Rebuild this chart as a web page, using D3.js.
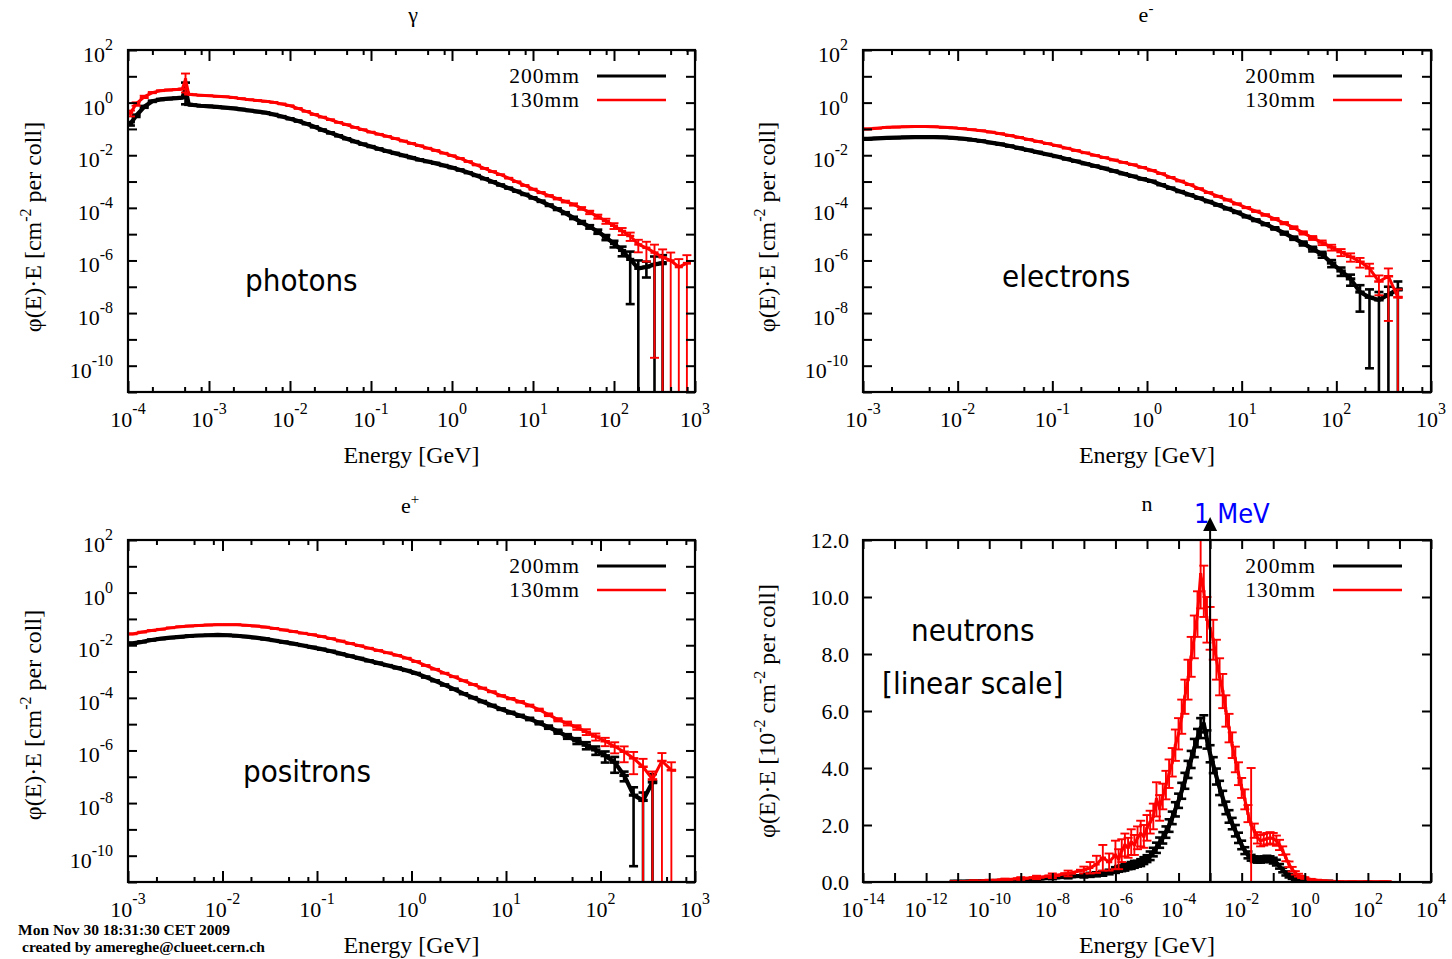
<!DOCTYPE html>
<html><head><meta charset="utf-8">
<script src="https://cdn.jsdelivr.net/npm/d3@7"></script>
<style>
body{margin:0;background:#fff}
svg{display:block}
</style></head><body>
<svg id="c" width="1452" height="959"></svg>
<script>
// ================= DATA =================
// Photons (gamma): bin centres as log10(E/GeV), flux values as log10(phi*E), relative errors
const photonLogE = [-3.97,-3.9,-3.8,-3.7,-3.6,-3.5,-3.4,-3.33,-3.29,-3.25,-3.2,
 -3.1,-3.0,-2.9,-2.8,-2.7,-2.6,-2.5,-2.4,-2.3,-2.2,
 -2.1,-2.0,-1.9,-1.8,-1.7,-1.6,-1.5,-1.4,-1.3,-1.2,
 -1.1,-1.0,-0.9,-0.8,-0.7,-0.6,-0.5,-0.4,-0.3,-0.2,
 -0.1,0.0,0.1,0.2,0.3,0.4,0.5,0.6,0.7,0.8,
 0.9,1.0,1.1,1.2,1.3,1.4,1.5,1.6,1.7,1.8,
 1.9,2.0,2.1,2.2,2.3,2.4,2.5,2.6,2.7,2.8,
 2.9];
const photon200Log = [-0.80,-0.50,-0.16,0.05,0.12,0.15,0.17,0.19,0.52,-0.07,-0.09,
 -0.12,-0.14,-0.16,-0.19,-0.22,-0.26,-0.30,-0.34,-0.38,-0.45,
 -0.53,-0.61,-0.70,-0.80,-0.92,-1.04,-1.15,-1.26,-1.37,-1.48,
 -1.58,-1.67,-1.76,-1.85,-1.93,-2.01,-2.09,-2.17,-2.24,-2.31,
 -2.39,-2.47,-2.56,-2.66,-2.77,-2.89,-3.01,-3.13,-3.25,-3.37,
 -3.49,-3.62,-3.75,-3.90,-4.05,-4.20,-4.38,-4.55,-4.72,-4.90,
 -5.12,-5.36,-5.62,-5.96,-6.30,-6.25,-6.15,-6.10,null,null,
 null];
const photon200RelErr = [0.15,0.1,0.08,0.05,0.04,0.03,0.03,0.03,0.74,0.03,0.03,
 0.03,0.03,0.03,0.03,0.03,0.03,0.03,0.03,0.03,0.03,
 0.03,0.03,0.03,0.03,0.03,0.03,0.03,0.03,0.03,0.03,
 0.03,0.03,0.03,0.03,0.03,0.03,0.03,0.03,0.03,0.03,
 0.03,0.03,0.03,0.03,0.03,0.03,0.03,0.03,0.03,0.03,
 0.04,0.04,0.05,0.06,0.07,0.08,0.1,0.12,0.15,0.18,
 0.22,0.28,0.4,0.98,1,0.6,1,1,0,0,
 0];
const photon130Log = [-0.40,-0.05,0.22,0.38,0.45,0.48,0.50,0.52,0.88,0.32,0.30,
 0.28,0.26,0.24,0.22,0.19,0.15,0.11,0.08,0.05,0.01,
 -0.05,-0.12,-0.22,-0.33,-0.45,-0.55,-0.65,-0.75,-0.84,-0.94,
 -1.03,-1.12,-1.20,-1.28,-1.37,-1.46,-1.55,-1.64,-1.73,-1.82,
 -1.92,-2.02,-2.12,-2.24,-2.37,-2.50,-2.62,-2.74,-2.87,-3.01,
 -3.15,-3.29,-3.42,-3.54,-3.65,-3.76,-3.87,-4.02,-4.17,-4.33,
 -4.50,-4.68,-4.88,-5.07,-5.39,-5.52,-5.70,-5.88,-6.00,-6.25,
 -6.10];
const photon130RelErr = [0.25,0.15,0.1,0.05,0.03,0.03,0.03,0.03,0.68,0.03,0.03,
 0.02,0.02,0.02,0.02,0.02,0.02,0.02,0.02,0.02,0.02,
 0.02,0.02,0.02,0.02,0.02,0.02,0.02,0.02,0.02,0.02,
 0.02,0.02,0.02,0.02,0.02,0.02,0.02,0.02,0.02,0.02,
 0.02,0.02,0.02,0.02,0.02,0.02,0.02,0.02,0.02,0.02,
 0.03,0.04,0.05,0.06,0.07,0.08,0.1,0.12,0.15,0.18,
 0.22,0.25,0.3,0.35,0.5,0.7,0.9999,1,1,1,
 1];

// Electrons (e-)
const electronLogE = [-2.95,-2.85,-2.75,-2.65,-2.55,-2.45,-2.35,-2.25,-2.15,-2.05,
 -1.95,-1.85,-1.75,-1.65,-1.55,-1.45,-1.35,-1.25,-1.15,-1.05,
 -0.95,-0.85,-0.75,-0.65,-0.55,-0.45,-0.35,-0.25,-0.15,-0.05,
 0.05,0.15,0.25,0.35,0.45,0.55,0.65,0.75,0.85,0.95,
 1.05,1.15,1.25,1.35,1.45,1.55,1.65,1.75,1.85,1.95,
 2.05,2.15,2.25,2.35,2.45,2.55,2.65];
const electron200Log = [-1.38,-1.36,-1.34,-1.33,-1.32,-1.31,-1.31,-1.31,-1.32,-1.34,
 -1.37,-1.41,-1.46,-1.52,-1.58,-1.65,-1.73,-1.81,-1.89,-1.97,
 -2.05,-2.14,-2.23,-2.32,-2.41,-2.50,-2.60,-2.70,-2.80,-2.90,
 -2.99,-3.12,-3.25,-3.38,-3.50,-3.63,-3.76,-3.89,-4.03,-4.17,
 -4.33,-4.47,-4.62,-4.78,-4.96,-5.15,-5.35,-5.56,-5.77,-6.10,
 -6.40,-6.70,-7.20,-7.40,-7.50,-7.30,-7.10];
const electron200RelErr = [0.02,0.02,0.02,0.02,0.02,0.02,0.02,0.02,0.02,0.02,
 0.02,0.02,0.02,0.02,0.02,0.02,0.02,0.02,0.02,0.02,
 0.02,0.02,0.02,0.02,0.02,0.02,0.02,0.02,0.02,0.02,
 0.02,0.02,0.02,0.03,0.03,0.03,0.04,0.04,0.05,0.05,
 0.06,0.07,0.08,0.1,0.12,0.14,0.17,0.2,0.25,0.3,
 0.35,0.45,0.82,0.998,1,1,1];
const electron130Log = [-1.00,-0.97,-0.94,-0.93,-0.92,-0.91,-0.91,-0.92,-0.94,-0.96,
 -0.99,-1.03,-1.07,-1.12,-1.18,-1.25,-1.32,-1.40,-1.48,-1.56,
 -1.64,-1.73,-1.82,-1.91,-2.00,-2.09,-2.18,-2.27,-2.36,-2.46,
 -2.57,-2.70,-2.84,-2.98,-3.12,-3.27,-3.42,-3.56,-3.70,-3.85,
 -3.99,-4.13,-4.27,-4.42,-4.58,-4.75,-4.95,-5.14,-5.32,-5.50,
 -5.68,-5.86,-6.05,-6.30,-6.80,-6.60,-7.40];
const electron130RelErr = [0.02,0.02,0.02,0.02,0.02,0.02,0.02,0.02,0.02,0.02,
 0.02,0.02,0.02,0.02,0.02,0.02,0.02,0.02,0.02,0.02,
 0.02,0.02,0.02,0.02,0.02,0.02,0.02,0.02,0.02,0.02,
 0.02,0.02,0.02,0.02,0.03,0.03,0.03,0.04,0.04,0.05,
 0.05,0.06,0.07,0.08,0.1,0.12,0.14,0.17,0.2,0.25,
 0.3,0.35,0.4,0.5,0.7,0.98,1];

// Positrons (e+)
const positronLogE = [-2.95,-2.85,-2.75,-2.65,-2.55,-2.45,-2.35,-2.25,-2.15,-2.05,
 -1.95,-1.85,-1.75,-1.65,-1.55,-1.45,-1.35,-1.25,-1.15,-1.05,
 -0.95,-0.85,-0.75,-0.65,-0.55,-0.45,-0.35,-0.25,-0.15,-0.05,
 0.05,0.15,0.25,0.35,0.45,0.55,0.65,0.75,0.85,0.95,
 1.05,1.15,1.25,1.35,1.45,1.55,1.65,1.75,1.85,1.95,
 2.05,2.15,2.25,2.35,2.45,2.55,2.65,2.75];
const positron200Log = [-1.93,-1.87,-1.80,-1.75,-1.71,-1.68,-1.65,-1.63,-1.62,-1.61,
 -1.62,-1.64,-1.67,-1.71,-1.76,-1.82,-1.88,-1.94,-2.01,-2.08,
 -2.15,-2.23,-2.32,-2.41,-2.50,-2.59,-2.68,-2.77,-2.86,-2.96,
 -3.07,-3.21,-3.35,-3.51,-3.67,-3.84,-3.99,-4.14,-4.29,-4.43,
 -4.56,-4.68,-4.80,-4.95,-5.11,-5.28,-5.46,-5.63,-5.80,-5.98,
 -6.20,-6.45,-6.95,-7.70,-7.90,-7.20,null,null];
const positron200RelErr = [0.02,0.02,0.02,0.02,0.02,0.02,0.02,0.02,0.02,0.02,
 0.02,0.02,0.02,0.02,0.02,0.02,0.02,0.02,0.02,0.02,
 0.02,0.02,0.02,0.02,0.02,0.02,0.02,0.02,0.02,0.02,
 0.02,0.02,0.02,0.03,0.03,0.03,0.04,0.04,0.05,0.06,
 0.07,0.08,0.1,0.12,0.14,0.17,0.2,0.25,0.3,0.35,
 0.45,0.6,0.4,0.998,1,1,0,0];
const positron130Log = [-1.57,-1.50,-1.44,-1.39,-1.34,-1.30,-1.27,-1.25,-1.23,-1.22,
 -1.22,-1.22,-1.24,-1.27,-1.31,-1.36,-1.42,-1.48,-1.54,-1.60,
 -1.67,-1.75,-1.84,-1.93,-2.02,-2.11,-2.20,-2.29,-2.38,-2.49,
 -2.62,-2.77,-2.91,-3.06,-3.20,-3.35,-3.49,-3.63,-3.77,-3.92,
 -4.03,-4.15,-4.29,-4.45,-4.64,-4.83,-4.97,-5.12,-5.29,-5.47,
 -5.65,-5.85,-6.05,-6.30,-6.62,-7.10,-6.40,-6.75];
const positron130RelErr = [0.02,0.02,0.02,0.02,0.02,0.02,0.02,0.02,0.02,0.02,
 0.02,0.02,0.02,0.02,0.02,0.02,0.02,0.02,0.02,0.02,
 0.02,0.02,0.02,0.02,0.02,0.02,0.02,0.02,0.02,0.02,
 0.02,0.02,0.02,0.02,0.03,0.03,0.03,0.04,0.04,0.05,
 0.06,0.07,0.08,0.1,0.12,0.14,0.17,0.2,0.25,0.3,
 0.35,0.45,0.6,0.75,1,1,1,1];

// Neutrons (n): linear flux in units of 1e-2 cm^-2 per coll, absolute errors
const neutronLogE = [-11.0,-10.5,-10.0,-9.5,-9.0,-8.5,-8.0,-7.5,-7.0,
 -6.8,-6.6,-6.4,-6.2,-6.0,
 -5.9,-5.8,-5.7,-5.6,-5.5,-5.4,-5.3,-5.2,-5.1,-5.0,
 -4.9,-4.8,-4.7,-4.6,-4.5,-4.4,-4.3,-4.2,-4.1,-4.0,
 -3.9,-3.8,-3.7,-3.6,-3.5,-3.4,-3.3,-3.2,-3.1,-3.0,
 -2.9,-2.8,-2.7,-2.6,-2.5,-2.4,-2.3,-2.2,-2.1,-2.0,
 -1.9,-1.8,-1.7,-1.6,-1.5,-1.4,-1.3,-1.2,-1.1,-1.0,
 -0.9,-0.8,-0.7,-0.6,-0.5,-0.4,-0.3,-0.2,-0.1,0.0,
 0.2,0.4,0.6,0.8,1.0,1.5,2.0,2.5];
const neutron200 = [0.01,0.02,0.03,0.05,0.08,0.11,0.15,0.19,0.22,
 0.25,0.27,0.30,0.35,0.42,
 0.46,0.48,0.52,0.55,0.58,0.62,0.64,0.68,0.75,0.82,
 0.92,1.05,1.20,1.38,1.55,1.75,1.98,2.25,2.55,2.85,
 3.20,3.55,3.95,4.30,4.70,5.05,5.40,5.55,5.00,4.50,
 4.10,3.70,3.30,2.95,2.60,2.30,2.05,1.80,1.55,1.30,
 1.10,0.95,0.85,0.80,0.78,0.78,0.80,0.82,0.80,0.75,
 0.68,0.55,0.42,0.30,0.22,0.16,0.12,0.09,0.07,0.05,
 0.03,0.02,0.01,0.01,null,null,null,null];
const neutron200Err = [0.02,0.02,0.02,0.03,0.03,0.04,0.05,0.06,0.06,
 0.07,0.07,0.08,0.08,0.1,
 0.1,0.1,0.12,0.1,0.12,0.12,0.1,0.12,0.12,0.12,
 0.15,0.15,0.18,0.18,0.2,0.2,0.22,0.22,0.25,0.25,
 0.28,0.28,0.3,0.3,0.32,0.32,0.35,0.3,0.32,0.3,
 0.28,0.28,0.25,0.25,0.22,0.22,0.2,0.2,0.18,0.15,
 0.12,0.12,0.1,0.1,0.1,0.1,0.1,0.1,0.1,0.1,
 0.1,0.08,0.08,0.07,0.06,0.05,0.04,0.03,0.03,0.02,
 0.02,0.02,0.01,0.01,0,0,0,0];
const neutron130 = [0.01,0.03,0.05,0.08,0.12,0.16,0.22,0.30,0.42,
 0.50,0.62,0.85,0.70,0.95,
 0.80,1.10,1.30,1.20,1.40,1.30,1.55,1.70,1.60,1.90,
 2.10,2.30,2.90,2.60,3.00,3.40,3.80,4.20,4.80,5.20,
 5.80,6.50,7.10,7.90,8.60,9.40,10.8,10.2,9.20,8.90,
 8.50,7.80,7.20,6.70,6.00,5.40,4.80,4.30,3.80,3.30,
 2.90,2.40,2.00,1.80,1.55,1.45,1.48,1.52,1.55,1.52,
 1.45,1.30,1.10,0.85,0.62,0.45,0.32,0.24,0.18,0.14,
 0.09,0.06,0.04,0.03,0.02,0.01,0.01,0.01];
const neutron130Err = [0.02,0.03,0.03,0.04,0.05,0.06,0.08,0.1,0.12,
 0.2,0.3,0.45,0.3,0.5,
 0.35,0.4,0.4,0.35,0.45,0.35,0.4,0.45,0.4,0.45,
 0.4,0.45,0.6,0.45,0.45,0.5,0.5,0.5,0.55,0.55,
 0.6,0.6,0.7,0.7,0.75,0.8,1.2,0.9,0.8,0.75,
 0.7,0.7,0.65,0.6,0.55,0.5,0.45,0.45,0.4,0.35,
 0.35,0.3,2.0,0.25,0.2,0.2,0.2,0.2,0.2,0.2,
 0.18,0.18,0.15,0.12,0.1,0.08,0.06,0.05,0.04,0.03,
 0.02,0.02,0.01,0.01,0.01,0.01,0.01,0.01];

const seriesNames = ["200mm","130mm"];
const seriesColors = ["#000000","#ff0000"];
const logYTickExps = [-11,-10,-9,-8,-7,-6,-5,-4,-3,-2,-1,0,1,2];
const logYLabelExps = [-10,-8,-6,-4,-2,0,2];
const neutronYTicks = [0,2,4,6,8,10,12];
const footerLines = ["Mon Nov 30 18:31:30 CET 2009","created by amereghe@clueet.cern.ch"];

// ================= DRAWING =================
const svg = d3.select('#c');
const SERIF = "'Liberation Serif','Times New Roman',serif";
const SANS = "'DejaVu Sans Condensed','Liberation Sans Narrow','DejaVu Sans',sans-serif";

function supText(sel, parts, size, supSize, shift){
  parts.forEach(([t,s],i)=>{
    const prev = i>0 ? parts[i-1][1] : 0;
    const ts = sel.append('tspan').text(t).attr('font-size', s?supSize:size);
    if(s && !prev) ts.attr('dy', -shift);
    if(!s && prev) ts.attr('dy', shift);
  });
  return sel;
}

function buildPoints(logE, vals, errs, isLog){
  const pts=[];
  for(let i=0;i<logE.length;i++){
    if(vals[i]===null || vals[i]===undefined) continue;
    const lo = i>0 ? (logE[i-1]+logE[i])/2 : logE[i]-(logE[1]-logE[0])/2;
    const hi = i<logE.length-1 ? (logE[i]+logE[i+1])/2 : logE[i]+(logE[i]-logE[i-1])/2;
    const v = isLog ? Math.pow(10, vals[i]) : vals[i];
    const e = isLog ? v*errs[i] : errs[i];
    pts.push({elo:Math.pow(10,lo), ehi:Math.pow(10,hi), e:Math.pow(10,logE[i]), v, lo:v-e, hi:v+e});
  }
  return pts;
}

const YLAB = [['φ(E)·E [cm',0],['-2',1],[' per coll]',0]];
const panels = [
  {f:[128,695,50,392], xDom:[1e-4,1e3], log:true, title:[['γ',0]], tPos:[413,22],
   logE:photonLogE, s:[[photon200Log,photon200RelErr],[photon130Log,photon130RelErr]],
   ann:[['photons',245,291]], ylab:YLAB, ylabPos:[41,227], minor:true},
  {f:[863,1431,50,392], xDom:[1e-3,1e3], log:true, title:[['e',0],['-',1]], tPos:[1146,22],
   logE:electronLogE, s:[[electron200Log,electron200RelErr],[electron130Log,electron130RelErr]],
   ann:[['electrons',1002,287]], ylab:YLAB, ylabPos:[775,227], minor:true},
  {f:[128,695,540,882], xDom:[1e-3,1e3], log:true, title:[['e',0],['+',1]], tPos:[410,513],
   logE:positronLogE, s:[[positron200Log,positron200RelErr],[positron130Log,positron130RelErr]],
   ann:[['positrons',243,782]], ylab:YLAB, ylabPos:[41,715], minor:true},
  {f:[863,1431,540,882], xDom:[1e-14,1e4], log:false, title:[['n',0]], tPos:[1147,511],
   logE:neutronLogE, s:[[neutron200,neutron200Err],[neutron130,neutron130Err]],
   ann:[['neutrons',911,641],['[linear scale]',882,694]], ylab:[['φ(E)·E [10',0],['-2',1],[' cm',0],['-2',1],[' per coll]',0]], ylabPos:[775,711], minor:false}
];

panels.forEach((p,pi)=>{
  const [x0,x1,y0,y1]=p.f;
  const x = d3.scaleLog().domain(p.xDom).range([x0,x1]);
  const y = p.log ? d3.scaleLog().domain([1e-11,1e2]).range([y1,y0]) : d3.scaleLinear().domain([0,12]).range([y1,y0]);
  const g = svg.append('g');
  const clipId = 'clip'+pi;
  svg.append('clipPath').attr('id',clipId).append('rect').attr('x',x0).attr('y',y0-2).attr('width',x1-x0).attr('height',y1-y0+2);
  const dg = g.append('g').attr('clip-path',`url(#${clipId})`);

  p.s.forEach(([vals,errs],si)=>{
    const pts = buildPoints(p.logE, vals, errs, p.log);
    const col = seriesColors[si];
    const lw = si===0 ? 4.2 : 3.0;
    const ew = si===0 ? 2.6 : 1.9;
    const sg = dg.append('g').attr('stroke',col).attr('fill','none');
    // band through bin centres
    const linePts=[];
    pts.forEach((d,i)=>{ if(i===0) linePts.push([x(d.elo),y(d.v)]); linePts.push([x(d.e),y(d.v)]); });
    const last = pts[pts.length-1]; linePts.push([x(last.ehi),y(last.v)]);
    sg.append('path').attr('d', d3.line()(linePts)).attr('stroke-width',lw).attr('stroke-linejoin','round');
    // error bars (x: bin width, y: uncertainty with caps)
    const yBot = y1+2;
    pts.forEach(d=>{
      const cx = x(d.e);
      const yt = y(d.hi);
      const yb = (d.lo<=0 || (p.log && d.lo<1e-11)) ? yBot : y(d.lo);
      sg.append('line').attr('x1',cx).attr('x2',cx).attr('y1',yt).attr('y2',yb).attr('stroke-width',ew);
      sg.append('line').attr('x1',cx-4.5).attr('x2',cx+4.5).attr('y1',yt).attr('y2',yt).attr('stroke-width',ew);
      if(yb<y1) sg.append('line').attr('x1',cx-4.5).attr('x2',cx+4.5).attr('y1',yb).attr('y2',yb).attr('stroke-width',ew);
      sg.append('line').attr('x1',x(d.elo)).attr('x2',x(d.ehi)).attr('y1',y(d.v)).attr('y2',y(d.v)).attr('stroke-width',ew+0.6);
    });
  });

  // axes ticks (inward, mirrored)
  let xMaj=[], xMin=[];
  const e0=Math.round(Math.log10(p.xDom[0])), e1=Math.round(Math.log10(p.xDom[1]));
  for(let e=e0;e<=e1;e++){ xMaj.push(Math.pow(10,e)); if(p.minor && e<e1){ [2,5,8].forEach(m=>xMin.push(m*Math.pow(10,e))); } }
  const yTicks = p.log ? logYTickExps.map(e=>Math.pow(10,e)) : neutronYTicks;
  const axG = g.append('g').attr('class','ax');
  const xMajLen = p.minor ? 11 : 9;
  axG.append('g').attr('transform',`translate(0,${y1})`).call(d3.axisBottom(x).tickValues(xMaj).tickFormat('').tickSizeInner(-xMajLen).tickSizeOuter(0));
  axG.append('g').attr('transform',`translate(0,${y0})`).call(d3.axisTop(x).tickValues(xMaj).tickFormat('').tickSizeInner(-xMajLen).tickSizeOuter(0));
  if(xMin.length){
    axG.append('g').attr('transform',`translate(0,${y1})`).call(d3.axisBottom(x).tickValues(xMin).tickFormat('').tickSizeInner(-5).tickSizeOuter(0));
    axG.append('g').attr('transform',`translate(0,${y0})`).call(d3.axisTop(x).tickValues(xMin).tickFormat('').tickSizeInner(-5).tickSizeOuter(0));
  }
  axG.append('g').attr('transform',`translate(${x0},0)`).call(d3.axisLeft(y).tickValues(yTicks).tickFormat('').tickSizeInner(-9).tickSizeOuter(0));
  axG.append('g').attr('transform',`translate(${x1},0)`).call(d3.axisRight(y).tickValues(yTicks).tickFormat('').tickSizeInner(-9).tickSizeOuter(0));
  axG.selectAll('.domain').remove();
  axG.selectAll('line').attr('stroke','#000').attr('stroke-width',2);

  // frame
  g.append('rect').attr('x',x0).attr('y',y0).attr('width',x1-x0).attr('height',y1-y0)
    .attr('fill','none').attr('stroke','#000').attr('stroke-width',2.2);

  // x tick labels
  const lg = g.append('g').attr('font-family',SERIF).attr('fill','#000');
  xMaj.forEach(v=>{
    const e=Math.round(Math.log10(v));
    if(!p.log && e%2!==0) return;
    const t = lg.append('text').attr('x',x(v)).attr('y',y1+35).attr('text-anchor','middle');
    supText(t, [['10',0],[String(e),1]], 22, 16, 13);
  });
  // y tick labels
  if(p.log){
    logYLabelExps.forEach(e=>{
      const t = lg.append('text').attr('x',x0-15).attr('y',y(Math.pow(10,e))+12).attr('text-anchor','end');
      supText(t, [['10',0],[String(e),1]], 22, 16, 12);
    });
  } else {
    neutronYTicks.forEach(v=>{
      lg.append('text').attr('x',x0-14).attr('y',y(v)+8).attr('text-anchor','end').attr('font-size',22).text(d3.format('.1f')(v));
    });
  }
  // axis titles
  lg.append('text').attr('x',(x0+x1)/2).attr('y',y1+71).attr('text-anchor','middle').attr('font-size',24).text('Energy [GeV]');
  const yl = lg.append('text').attr('transform',`translate(${p.ylabPos[0]},${p.ylabPos[1]}) rotate(-90)`).attr('text-anchor','middle');
  supText(yl, p.ylab, 24, 16, 10);
  const tt = lg.append('text').attr('x',p.tPos[0]).attr('y',p.tPos[1]).attr('text-anchor','middle');
  supText(tt, p.title, 22, 15, 9);

  // legend
  seriesNames.forEach((nm,si)=>{
    const ly = y0+26+si*24;
    lg.append('text').attr('x',x1-115).attr('y',ly+7).attr('text-anchor','end').attr('font-size',21.5)
      .attr('letter-spacing',1).text(nm);
    g.append('line').attr('x1',x1-98).attr('x2',x1-29).attr('y1',ly).attr('y2',ly)
      .attr('stroke',seriesColors[si]).attr('stroke-width',si===0?3:2.4);
  });

  // annotations
  p.ann.forEach(([t,ax,ay])=>{
    g.append('text').attr('x',ax).attr('y',ay).attr('font-family',SANS).attr('font-size',31).attr('fill','#000').text(t);
  });

  if(!p.log){
    const xa = x(1e-3);
    g.append('text').attr('x',1194).attr('y',523).attr('font-family',SANS).attr('font-size',27).attr('fill','#0000ff').text('1 MeV');
    g.append('line').attr('x1',xa).attr('x2',xa).attr('y1',y(0)).attr('y2',529).attr('stroke','#000').attr('stroke-width',2);
    g.append('path').attr('d',`M${xa},517 L${xa-7},531 L${xa+7},531 Z`).attr('fill','#000');
  }
});

// footer
const fg = svg.append('g').attr('font-family',SERIF).attr('font-size',15.5).attr('font-weight','bold').attr('fill','#000');
fg.append('text').attr('x',18).attr('y',935).text(footerLines[0]);
fg.append('text').attr('x',22).attr('y',952).text(footerLines[1]);
</script>
</body></html>
